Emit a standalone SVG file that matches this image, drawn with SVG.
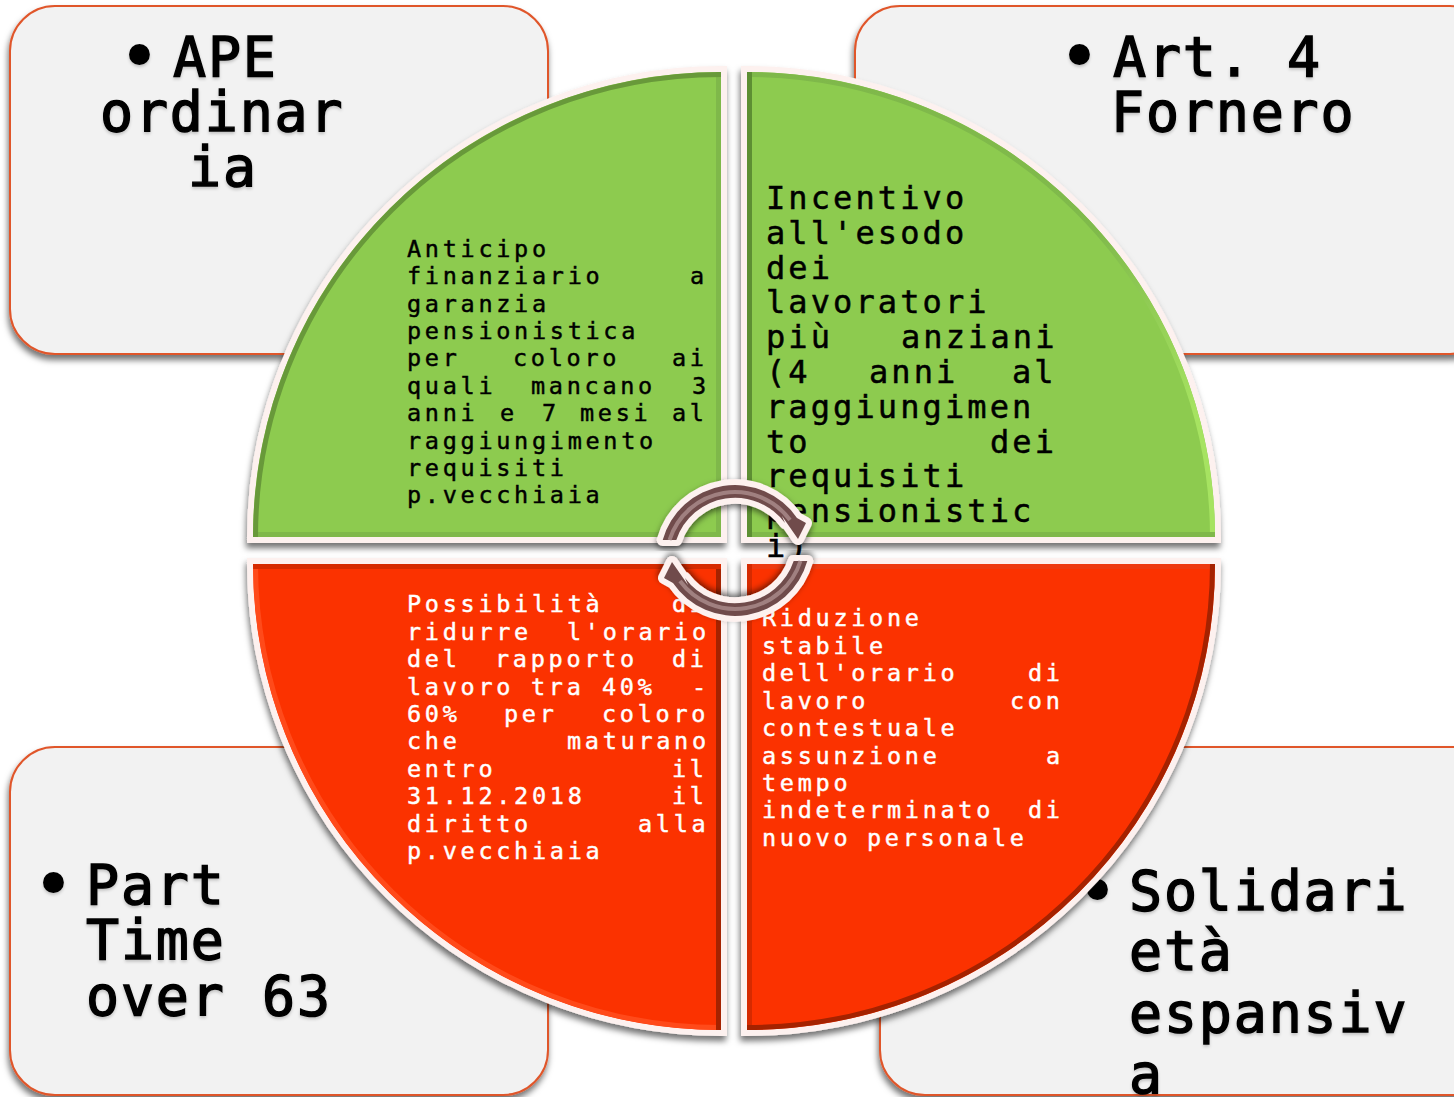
<svg xmlns="http://www.w3.org/2000/svg" width="1454" height="1097" viewBox="0 0 1454 1097">
<defs>
<style>
text{font-family:"DejaVu Sans Mono","Liberation Mono",monospace;white-space:pre}
.card{fill:#f2f2f2;stroke:#e0562b;stroke-width:2}
.big{font-size:55px;letter-spacing:1.8px;fill:#000;stroke:#000;stroke-width:1.4px}
.blt{font-size:58px;fill:#000;stroke:#000;stroke-width:4px;stroke-linejoin:round}
.sm{font-size:23.5px;letter-spacing:3.7px;stroke-width:.45px}
.med{font-size:32px;letter-spacing:3.1px;fill:#000;stroke:#000;stroke-width:.5px}
.dk{fill:#000;stroke:#000}
.wh{fill:#fff;stroke:#fff}
.g{fill:#8dcb4f}
.r{fill:#fb3200}
.edge{stroke:#fdf1ef;stroke-width:6;stroke-linejoin:miter}
.bv{fill:none;stroke-width:10}
.ga{stroke:#68993a}
.gb{stroke:#7fb84a}
.gc{stroke:#5d8f33}
.rd{stroke:#a52200}
.rm{stroke:#d62a00}
.rl{stroke:#ee3a10}
.rk{stroke:#ff4a1a}
.arrow{fill:#6f4b4b;stroke:#fdf1ef;stroke-width:12;stroke-linejoin:round;paint-order:stroke}
.sheen{fill:none;stroke:#a08080;stroke-width:4}
</style>
<linearGradient id="trarc" x1="747" y1="72" x2="1215" y2="537" gradientUnits="userSpaceOnUse"><stop offset="0" stop-color="#7fb84a"/><stop offset=".55" stop-color="#80ba4b"/><stop offset=".85" stop-color="#a6e361"/></linearGradient>
<filter id="sh" x="-5%" y="-5%" width="110%" height="112%"><feDropShadow dx="-1" dy="5" stdDeviation="3" flood-color="#000" flood-opacity=".55"/></filter>
<filter id="sh2" x="-20%" y="-20%" width="140%" height="140%"><feDropShadow dx="0" dy="3" stdDeviation="3" flood-color="#000" flood-opacity=".55"/></filter>
<filter id="ts" x="-5%" y="-5%" width="110%" height="115%"><feDropShadow dx="0" dy="2" stdDeviation="1.5" flood-color="#000" flood-opacity=".2"/></filter>
<clipPath id="ctl"><path d="M721 537H253A468 465 0 0 1 721 72Z"/></clipPath>
<clipPath id="ctr"><path d="M747 537H1215A468 465 0 0 0 747 72Z"/></clipPath>
<clipPath id="cbl"><path d="M721 564H253A468 466 0 0 0 721 1030Z"/></clipPath>
<clipPath id="cbr"><path d="M747 564H1215A468 466 0 0 1 747 1030Z"/></clipPath>
</defs>
<rect width="1454" height="1097" fill="#fff"/>

<g id="card-ape"><rect class="card" x="10" y="6" width="538" height="348" rx="45" filter="url(#sh)"/>
<g filter="url(#ts)"><text class="blt" x="122" y="76">•</text>
<text class="big"><tspan x="173" y="76">APE</tspan><tspan x="100" y="131">ordinar</tspan><tspan x="188" y="186">ia</tspan></text></g></g>

<g id="card-art4"><rect class="card" x="855" y="6" width="640" height="348" rx="45" filter="url(#sh)"/>
<g filter="url(#ts)"><text class="blt" x="1062" y="76">•</text>
<text class="big"><tspan x="1113" y="76">Art.</tspan><tspan x="1287" y="76">4</tspan><tspan x="1111" y="131">Fornero</tspan></text></g></g>

<g id="card-parttime"><rect class="card" x="10" y="747" width="538" height="348" rx="45" filter="url(#sh)"/>
<g filter="url(#ts)"><text class="blt" x="36" y="904">•</text>
<text class="big"><tspan x="86" y="904">Part</tspan><tspan x="86" y="959">Time</tspan><tspan x="86" y="1015">over</tspan><tspan x="262" y="1015">63</tspan></text></g></g>

<g id="card-solidarieta"><rect class="card" x="880" y="747" width="620" height="348" rx="45" filter="url(#sh)"/>
<g filter="url(#ts)"><text class="blt" x="1080" y="911">•</text>
<text class="big"><tspan x="1129" y="910">Solidari</tspan><tspan x="1129" y="970">età</tspan><tspan x="1129" y="1032">espansiv</tspan><tspan x="1129" y="1093">a</tspan></text></g></g>

<g id="sector-tl"><path class="g edge" filter="url(#sh)" d="M724 540H250A471 468 0 0 1 724 69Z"/>
<g clip-path="url(#ctl)"><path class="bv gb" d="M721 537H253M721 537V72"/><path class="bv ga" d="M253 537A468 465 0 0 1 721 72"/></g>
<text class="sm dk"><tspan x="407" y="257">Anticipo</tspan><tspan x="407" y="284">finanziario</tspan><tspan x="690" y="284">a</tspan><tspan x="407" y="312">garanzia</tspan><tspan x="407" y="339">pensionistica</tspan><tspan x="407" y="366">per</tspan><tspan x="513" y="366">coloro</tspan><tspan x="672" y="366">ai</tspan><tspan x="407" y="394">quali</tspan><tspan x="531" y="394">mancano</tspan><tspan x="692" y="394">3</tspan><tspan x="407" y="421">anni</tspan><tspan x="500" y="421">e</tspan><tspan x="542" y="421">7</tspan><tspan x="580" y="421">mesi</tspan><tspan x="672" y="421">al</tspan><tspan x="407" y="449">raggiungimento</tspan><tspan x="407" y="476">requisiti</tspan><tspan x="407" y="503">p.vecchiaia</tspan></text></g>

<g id="sector-tr"><path class="g edge" filter="url(#sh)" d="M744 540H1218A471 468 0 0 0 744 69Z"/>
<g clip-path="url(#ctr)"><path class="bv" stroke="url(#trarc)" d="M1215 537A468 465 0 0 0 747 72"/><path class="bv gb" d="M747 537H1215"/><path class="bv gc" d="M747 537V72"/></g>
<text class="med"><tspan x="766" y="209">Incentivo</tspan><tspan x="766" y="244">all'esodo</tspan><tspan x="766" y="279">dei</tspan><tspan x="766" y="313">lavoratori</tspan><tspan x="766" y="348">più</tspan><tspan x="901" y="348">anziani</tspan><tspan x="766" y="383">(4</tspan><tspan x="869" y="383">anni</tspan><tspan x="1012" y="383">al</tspan><tspan x="766" y="418">raggiungimen</tspan><tspan x="766" y="453">to</tspan><tspan x="990" y="453">dei</tspan><tspan x="766" y="487">requisiti</tspan><tspan x="766" y="522">pensionistic</tspan><tspan x="766" y="557">i)</tspan></text></g>

<g id="sector-bl"><path class="r edge" filter="url(#sh)" d="M724 561H250A471 469 0 0 0 724 1033Z"/>
<g clip-path="url(#cbl)"><path class="bv rk" d="M253 564A468 466 0 0 0 721 1030"/><path class="bv rl" d="M721 1030V1025" /><path class="bv rd" d="M721 564V1030"/><path class="bv rm" d="M253 564H721"/></g>
<text class="sm wh"><tspan x="407" y="612">Possibilità</tspan><tspan x="672" y="612">di</tspan><tspan x="407" y="640">ridurre</tspan><tspan x="567" y="640">l'orario</tspan><tspan x="407" y="667">del</tspan><tspan x="495" y="667">rapporto</tspan><tspan x="672" y="667">di</tspan><tspan x="407" y="695">lavoro</tspan><tspan x="531" y="695">tra</tspan><tspan x="602" y="695">40%</tspan><tspan x="692" y="695">-</tspan><tspan x="407" y="722">60%</tspan><tspan x="504" y="722">per</tspan><tspan x="602" y="722">coloro</tspan><tspan x="407" y="749">che</tspan><tspan x="567" y="749">maturano</tspan><tspan x="407" y="777">entro</tspan><tspan x="672" y="777">il</tspan><tspan x="407" y="804">31.12.2018</tspan><tspan x="672" y="804">il</tspan><tspan x="407" y="832">diritto</tspan><tspan x="638" y="832">alla</tspan><tspan x="407" y="859">p.vecchiaia</tspan></text></g>

<g id="sector-br"><path class="r edge" filter="url(#sh)" d="M744 561H1218A471 469 0 0 1 744 1033Z"/>
<g clip-path="url(#cbr)"><path class="bv rl" d="M747 564H1215"/><path class="bv rm" d="M747 564V1030"/><path class="bv rd" d="M1215 564A468 466 0 0 1 747 1030"/></g>
<text class="sm wh"><tspan x="762" y="626">Riduzione</tspan><tspan x="762" y="654">stabile</tspan><tspan x="762" y="681">dell'orario</tspan><tspan x="1028" y="681">di</tspan><tspan x="762" y="709">lavoro</tspan><tspan x="1010" y="709">con</tspan><tspan x="762" y="736">contestuale</tspan><tspan x="762" y="764">assunzione</tspan><tspan x="1046" y="764">a</tspan><tspan x="762" y="791">tempo</tspan><tspan x="762" y="818">indeterminato</tspan><tspan x="1028" y="818">di</tspan><tspan x="762" y="846">nuovo</tspan><tspan x="867" y="846">personale</tspan></text></g>

<g id="connectors">
<g id="cycle-top"><path class="arrow" filter="url(#sh2)" d="M662.7 540A75 75 0 0 1 797 518L806 523L798 539L782 516L785 523A62 62 0 0 0 676.3 540Z"/>
<path class="sheen" d="M669.5 540A68.5 68.5 0 0 1 790 520"/></g>
<g id="cycle-bottom"><path class="arrow" filter="url(#sh2)" transform="rotate(180 735 550.5)" d="M662.7 540A75 75 0 0 1 797 518L806 523L798 539L782 516L785 523A62 62 0 0 0 676.3 540Z"/>
<path class="sheen" transform="rotate(180 735 550.5)" d="M669.5 540A68.5 68.5 0 0 1 790 520"/></g>
</g>
</svg>
